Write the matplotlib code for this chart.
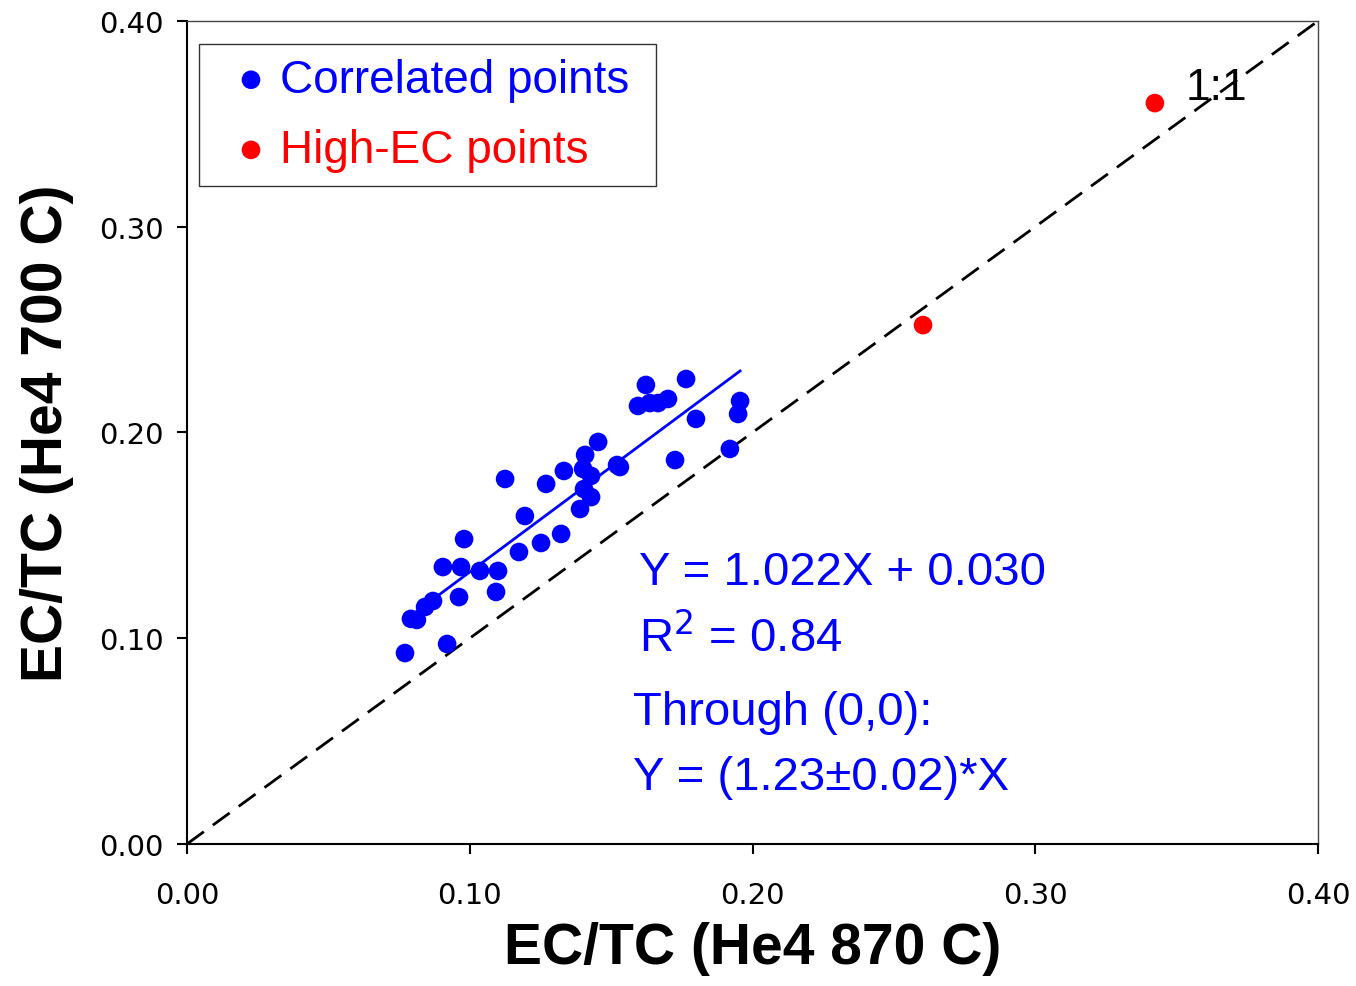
import matplotlib
matplotlib.use("Agg")
import matplotlib.pyplot as plt
import numpy as np

# EC/TC values, He4 870 C (x) vs He4 700 C (y)
corr_x = [0.0771, 0.0792, 0.0813, 0.0842, 0.0870, 0.0920, 0.0905, 0.0962, 0.0969, 0.0980,
          0.1036, 0.1093, 0.1100, 0.1125, 0.1174, 0.1195, 0.1252, 0.1270, 0.1323, 0.1333,
          0.1390, 0.1401, 0.1404, 0.1408, 0.1429, 0.1429, 0.1454, 0.1521, 0.1531, 0.1595,
          0.1623, 0.1637, 0.1666, 0.1701, 0.1726, 0.1765, 0.1800, 0.1920, 0.1949, 0.1956]
corr_y = [0.0928, 0.1094, 0.1089, 0.1152, 0.1181, 0.0972, 0.1346, 0.1200, 0.1346, 0.1482,
          0.1327, 0.1225, 0.1327, 0.1774, 0.1419, 0.1594, 0.1463, 0.1750, 0.1507, 0.1813,
          0.1628, 0.1823, 0.1725, 0.1891, 0.1789, 0.1686, 0.1954, 0.1842, 0.1832, 0.2129,
          0.2231, 0.2143, 0.2143, 0.2163, 0.1866, 0.2260, 0.2066, 0.1920, 0.2090, 0.2153]
high_x = [0.2603, 0.3423]
high_y = [0.2522, 0.3601]

slope, intercept = 1.022, 0.030
ticks = [0.0, 0.1, 0.2, 0.3, 0.4]

fig = plt.figure(figsize=(13.56, 9.87), dpi=100)
ax = fig.add_axes([0.1379, 0.1439, 0.8341, 0.8338])

# 1:1 line
ax.plot([0, 0.4], [0, 0.4], color="black", lw=2.0, linestyle=(0, (7.5, 4)), zorder=1)

# regression line over the range of correlated points
fx = np.array([min(corr_x), max(corr_x)])
ax.plot(fx, slope * fx + intercept, color="blue", lw=2.0, zorder=2)

ax.scatter(corr_x, corr_y, s=180, color="blue", edgecolors="none", zorder=3,
           label="Correlated points")
ax.scatter(high_x, high_y, s=180, color="red", edgecolors="none", zorder=3,
           label="High-EC points")

ax.set_xlim(0, 0.4)
ax.set_ylim(0, 0.4)
ax.set_xticks(ticks)
ax.set_yticks(ticks)
ax.set_xticklabels([f"{t:.2f}" for t in ticks])
ax.set_yticklabels([f"{t:.2f}" for t in ticks])
ax.tick_params(direction="out", length=7, width=1.5, labelsize=21, pad=10)
ax.tick_params(axis="x", pad=20)

for s in ["left", "bottom"]:
    ax.spines[s].set_linewidth(1.5)
for s in ["top", "right"]:
    ax.spines[s].set_linewidth(1.0)
    ax.spines[s].set_color("#444444")

ax.set_xlabel("EC/TC (He4 870 C)", fontsize=41, fontweight="bold",
              family="Liberation Sans", labelpad=8)
ax.set_ylabel("EC/TC (He4 700 C)", fontsize=41, fontweight="bold",
              family="Liberation Sans", labelpad=18)

txt = dict(color="blue", fontsize=34, family="Liberation Sans", va="baseline")
ax.text(0.1600, 0.1264, "Y = 1.022X + 0.030", **txt)
ax.text(0.1600, 0.0938, "R$^2$ = 0.84", **txt)
ax.text(0.1577, 0.0583, "Through (0,0):", **txt)
ax.text(0.1577, 0.0267, "Y = (1.23\u00b10.02)*X", **txt)
ax.text(0.3530, 0.362, "1:1", color="black", fontsize=32, family="Liberation Sans",
        va="baseline")

leg = ax.legend(loc="upper left", bbox_to_anchor=(0.0106, 0.5, 0.404, 0.472),
                mode="expand", borderaxespad=0,
                prop={"family": "Liberation Sans", "size": 33}, labelcolor="markerfacecolor",
                fancybox=False, frameon=True, handletextpad=-0.2, handlelength=1.67,
                borderpad=0.3, labelspacing=0.57, markerscale=1.0)
leg.get_frame().set_edgecolor("black")
leg.get_frame().set_linewidth(1.0)

fig.savefig("out.png", dpi=100)
